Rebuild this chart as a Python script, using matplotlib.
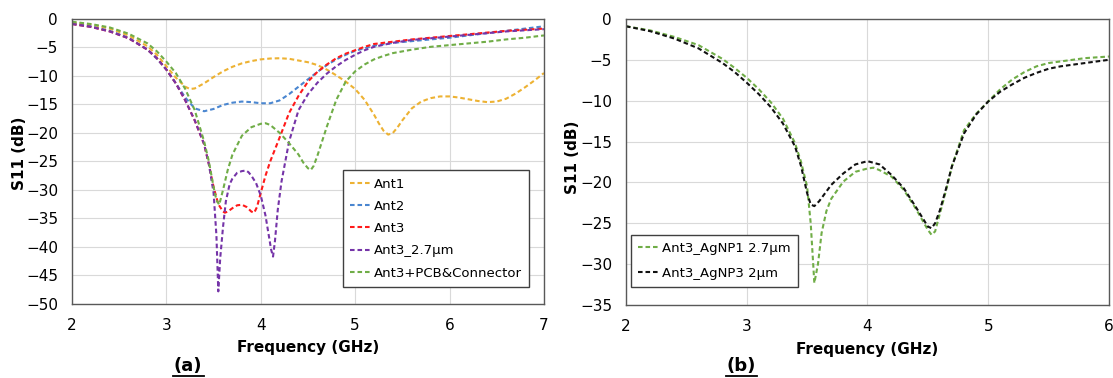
import matplotlib
matplotlib.use('Agg')
import matplotlib.pyplot as plt

# (a) S11 of antennas
ant1_f = [2.0, 2.2, 2.4, 2.6, 2.8, 2.9, 3.0, 3.1, 3.2, 3.25, 3.3, 3.4, 3.5, 3.6, 3.7, 3.8, 3.9, 4.0,
          4.1, 4.2, 4.3, 4.4, 4.5, 4.6, 4.7, 4.8, 4.9, 5.0, 5.1, 5.2, 5.25, 5.3, 5.35, 5.4, 5.45, 5.5,
          5.6, 5.7, 5.8, 5.9, 6.0, 6.1, 6.2, 6.3, 6.4, 6.5, 6.6, 6.7, 6.8, 6.9, 7.0]
ant1_s = [-0.6, -1.0, -1.7, -2.9, -4.8, -6.3, -8.3, -10.3, -11.9, -12.3, -12.2, -11.3, -10.2, -9.2,
          -8.4, -7.8, -7.4, -7.1, -6.95, -6.9, -7.0, -7.3, -7.6, -8.1, -8.9, -9.9, -11.0, -12.3,
          -14.2, -16.8, -18.3, -19.6, -20.3, -20.0, -19.0, -17.8, -15.7, -14.5, -13.9, -13.6, -13.6,
          -13.8, -14.1, -14.4, -14.6, -14.5, -14.0, -13.1, -12.0, -10.8, -9.5]

ant2_f = [2.0, 2.2, 2.4, 2.6, 2.8, 2.9, 3.0, 3.1, 3.2, 3.3, 3.4, 3.5, 3.6, 3.7, 3.8, 3.9, 4.0, 4.1,
          4.2, 4.3, 4.4, 4.5, 4.6, 4.7, 4.8, 4.9, 5.0, 5.2, 5.4, 5.6, 5.8, 6.0, 6.2, 6.4, 6.6, 6.8, 7.0]
ant2_s = [-0.8, -1.3, -2.1, -3.3, -5.4, -7.0, -8.9, -11.3, -13.8, -15.7, -16.2, -15.8, -15.1, -14.7,
          -14.5, -14.6, -14.8, -14.8, -14.3, -13.2, -11.9, -10.6, -9.3, -8.1, -7.1, -6.3, -5.6, -4.7,
          -4.2, -3.9, -3.6, -3.3, -2.9, -2.5, -2.1, -1.7, -1.3]

ant3_f = [2.0, 2.2, 2.4, 2.6, 2.8, 2.9, 3.0, 3.1, 3.2, 3.3, 3.4, 3.45, 3.5, 3.55, 3.6, 3.62, 3.65,
          3.7, 3.75, 3.8, 3.85, 3.9, 3.93, 3.96, 4.0, 4.05, 4.1, 4.2, 4.3, 4.4, 4.5, 4.6, 4.7, 4.8,
          4.9, 5.0, 5.1, 5.2, 5.4, 5.6, 5.8, 6.0, 6.2, 6.4, 6.6, 6.8, 7.0]
ant3_s = [-0.9, -1.4, -2.2, -3.4, -5.4, -6.9, -8.9, -11.3, -14.3, -17.8, -22.0, -25.5, -29.5, -32.5,
          -33.8, -34.0, -33.8, -33.2, -32.7, -32.6, -33.0, -33.8, -34.0, -33.0, -30.5, -27.5, -25.0,
          -20.8, -16.5, -13.5, -11.0, -9.3, -8.0, -6.9, -6.1, -5.5, -4.9, -4.4, -4.0, -3.6, -3.3,
          -3.0, -2.7, -2.4, -2.1, -1.9, -1.7]

ant3t_f = [2.0, 2.2, 2.4, 2.6, 2.8, 2.9, 3.0, 3.1, 3.2, 3.3, 3.4, 3.45, 3.5, 3.53, 3.55, 3.57, 3.6,
           3.63, 3.67, 3.7, 3.75, 3.8, 3.845, 3.87, 3.9, 3.95, 4.0, 4.05, 4.08, 4.11, 4.13, 4.15,
           4.18, 4.22, 4.3, 4.4, 4.5, 4.6, 4.7, 4.8, 4.9, 5.0, 5.1, 5.2, 5.4, 5.6, 5.8, 6.0, 6.2,
           6.4, 6.6, 6.8, 7.0]
ant3t_s = [-0.9, -1.4, -2.2, -3.4, -5.4, -6.9, -8.9, -11.3, -14.3, -17.8, -22.0, -25.5, -30.5,
           -38.0, -47.8, -42.0, -36.5, -32.0, -29.0, -28.0, -27.0, -26.7, -26.6, -26.9, -27.5,
           -28.8, -31.0, -34.5, -37.5, -40.5, -41.7, -39.0, -33.5, -28.5, -21.5, -16.0, -13.2,
           -11.2, -9.6, -8.3, -7.2, -6.3, -5.5, -4.9, -4.2, -3.7, -3.4, -3.1, -2.8, -2.5, -2.2,
           -2.0, -1.8]

pcb_f = [2.0, 2.2, 2.4, 2.6, 2.8, 2.9, 3.0, 3.1, 3.2, 3.3, 3.4, 3.45, 3.5, 3.53, 3.56, 3.6, 3.65,
         3.7, 3.8, 3.9, 4.0, 4.05, 4.1, 4.2, 4.3, 4.4, 4.45, 4.5, 4.53, 4.56, 4.6, 4.7, 4.8, 4.9,
         5.0, 5.1, 5.2, 5.3, 5.4, 5.6, 5.8, 6.0, 6.2, 6.4, 6.6, 6.8, 7.0]
pcb_s = [-0.5, -0.9, -1.5, -2.6, -4.3, -5.7, -7.5, -9.5, -12.3, -16.0, -21.5, -25.0, -29.5, -31.8,
         -32.6, -30.0, -26.5, -23.8, -20.5, -19.0, -18.4, -18.3, -18.6, -20.0, -21.8, -23.8,
         -25.2, -26.2, -26.5, -25.8, -24.0, -18.9, -14.2, -11.0, -9.2, -8.0, -7.1, -6.5, -6.0,
         -5.4, -4.9, -4.6, -4.3, -4.0, -3.6, -3.3, -2.9]

# (b) AgNP thickness comparison
np1_f = [2.0, 2.2, 2.4, 2.6, 2.8, 2.9, 3.0, 3.1, 3.2, 3.3, 3.4, 3.45, 3.5, 3.53, 3.56, 3.59, 3.62,
         3.66, 3.7, 3.8, 3.9, 4.0, 4.05, 4.1, 4.2, 4.3, 4.4, 4.45, 4.5, 4.53, 4.56, 4.6, 4.65, 4.7,
         4.8, 4.9, 5.0, 5.1, 5.2, 5.3, 5.4, 5.5, 5.6, 5.8, 6.0]
np1_s = [-0.9, -1.4, -2.2, -3.2, -4.9, -6.0, -7.2, -8.6, -10.2, -12.2, -15.2, -17.5, -20.5, -25.0,
         -32.3, -30.0, -26.2, -23.5, -22.0, -19.9, -18.7, -18.3, -18.2, -18.5, -19.3, -20.9,
         -23.2, -24.5, -25.8, -26.4, -26.0, -23.8, -21.0, -18.0, -13.6, -11.6, -10.1, -8.6, -7.4,
         -6.5, -5.8, -5.4, -5.2, -4.8, -4.6]

np3_f = [2.0, 2.2, 2.4, 2.6, 2.8, 2.9, 3.0, 3.1, 3.2, 3.3, 3.4, 3.45, 3.5, 3.53, 3.56, 3.6, 3.7,
         3.8, 3.9, 4.0, 4.1, 4.2, 4.3, 4.4, 4.45, 4.5, 4.53, 4.56, 4.6, 4.65, 4.7, 4.8, 4.9, 5.0,
         5.1, 5.2, 5.3, 5.4, 5.5, 5.6, 5.8, 6.0]
np3_s = [-0.9, -1.5, -2.4, -3.6, -5.4, -6.5, -7.8, -9.2, -10.8, -12.8, -15.6, -18.0, -21.3, -22.7,
         -22.9, -22.3, -20.3, -18.9, -17.8, -17.4, -17.8, -19.1, -20.7, -23.0, -24.2, -25.4,
         -25.6, -25.0, -23.4, -20.8, -18.0, -14.0, -11.7, -10.1, -8.9, -8.0, -7.2, -6.6, -6.1,
         -5.8, -5.4, -5.0]

fig = plt.figure(figsize=(11.13, 3.78), dpi=100)
ax1 = fig.add_axes([0.0647, 0.196, 0.424, 0.754])
ax2 = fig.add_axes([0.5624, 0.193, 0.434, 0.757])

dash = (2.2, 1.4)
lw = 1.5

ax1.plot(ant1_f, ant1_s, color='#EDB233', lw=lw, dashes=dash, label='Ant1')
ax1.plot(ant2_f, ant2_s, color='#4A86D0', lw=lw, dashes=dash, label='Ant2')
ax1.plot(ant3_f, ant3_s, color='#FF1A1A', lw=lw, dashes=dash, label='Ant3')
ax1.plot(ant3t_f, ant3t_s, color='#7534A8', lw=lw, dashes=dash, label='Ant3_2.7µm')
ax1.plot(pcb_f, pcb_s, color='#70AD47', lw=lw, dashes=dash, label='Ant3+PCB&Connector')

ax2.plot(np1_f, np1_s, color='#70AD47', lw=lw, dashes=dash, label='Ant3_AgNP1 2.7µm')
ax2.plot(np3_f, np3_s, color='#111111', lw=lw, dashes=dash, label='Ant3_AgNP3 2µm')

for ax, xmax, ymin, ylab_y in [(ax1, 7, -50, 0.53), (ax2, 6, -35, 0.517)]:
    ax.set_xlim(2, xmax)
    ax.set_ylim(ymin, 0)
    ax.set_xticks(range(2, xmax + 1))
    ax.set_yticks(range(ymin, 1, 5))
    ax.grid(True, color='#D9D9D9', lw=0.8)
    ax.set_axisbelow(True)
    ax.tick_params(axis='x', length=0, labelsize=11, pad=10)
    ax.tick_params(axis='y', length=0, labelsize=11, pad=10)
    for sp in ax.spines.values():
        sp.set_color('#595959')
        sp.set_linewidth(1.0)
    ax.set_xlabel('Frequency (GHz)', fontsize=11, fontweight='bold')
    ax.set_ylabel('S11 (dB)', fontsize=11, fontweight='bold')
    ax.xaxis.label.set_va('center')
    ax.yaxis.label.set_va('center')
    ax.xaxis.set_label_coords(0.5, -0.154)
    ax.yaxis.set_label_coords(-0.111, ylab_y)

leg1 = ax1.legend(loc='lower right', bbox_to_anchor=(0.968, 0.06), fontsize=9.5, frameon=True,
                  fancybox=False, edgecolor='#404040', framealpha=1, handlelength=1.6,
                  handletextpad=0.2, labelspacing=0.7, borderpad=0.55, borderaxespad=0)
leg1.get_frame().set_linewidth(1.0)
leg2 = ax2.legend(loc='lower left', bbox_to_anchor=(0.010, 0.063), fontsize=9.5, frameon=True,
                  fancybox=False, edgecolor='#404040', framealpha=1, handlelength=1.6,
                  handletextpad=0.2, labelspacing=0.9, borderpad=0.55, borderaxespad=0)
leg2.get_frame().set_linewidth(1.0)

fig.text(0.169, 0.032, '(a)', fontsize=13, fontweight='bold', ha='center', va='center')
fig.text(0.666, 0.032, '(b)', fontsize=13, fontweight='bold', ha='center', va='center')
# underline the panel letters
fig.add_artist(plt.Line2D([0.155, 0.183], [0.006, 0.006], color='black', lw=1.3))
fig.add_artist(plt.Line2D([0.652, 0.680], [0.006, 0.006], color='black', lw=1.3))

fig.savefig('out.png', dpi=100)
